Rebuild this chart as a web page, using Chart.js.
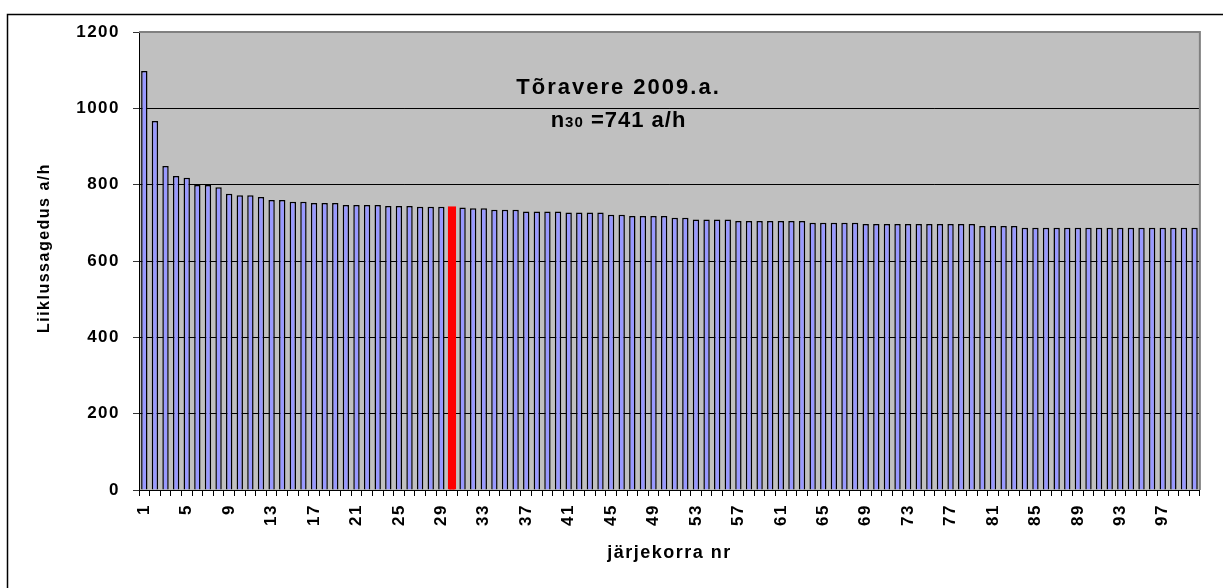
<!DOCTYPE html>
<html>
<head>
<meta charset="utf-8">
<script src="https://cdn.jsdelivr.net/npm/chart.js@4/dist/chart.umd.min.js"></script>
<style>
  html, body { margin: 0; padding: 0; background: #fff; }
  #wrap { width: 1223px; height: 588px; }
</style>
</head>
<body>
<div id="wrap"><canvas id="chart"></canvas></div>
<script>
// järjekorra nr 1..100
const positions = Array.from({ length: 100 }, (_, i) => String(i + 1));
const labelStep = 4;

// liiklussagedus a/h, sorted descending
const intensity = [
  1098, 967, 849, 823, 818, 799, 799, 793, 776, 772,
  772, 768, 760, 760, 755, 755, 752, 752, 752, 747,
  747, 747, 747, 744, 744, 744, 742, 742, 742, 741,
  740, 738, 738, 734, 734, 734, 730, 730, 730, 730,
  727, 727, 727, 727, 721, 721, 718, 718, 718, 718,
  713, 713, 709, 709, 709, 709, 705, 705, 705, 705,
  705, 705, 705, 700, 700, 700, 700, 700, 697, 697,
  697, 697, 697, 697, 697, 697, 697, 697, 697, 692,
  692, 692, 692, 687, 687, 687, 687, 687, 687, 687,
  687, 687, 687, 687, 687, 687, 687, 687, 687, 687
];

const n30Index = 29; // 30. tund
const yTicks = [0, 200, 400, 600, 800, 1000, 1200];

const FONT = "'Liberation Sans', Arial, sans-serif";
const SPACING = '1.5px';

const excelLook = {
  id: 'excelLook',
  beforeUpdate(chart) { chart.ctx.letterSpacing = SPACING; },
  beforeDraw(chart) {
    const { ctx, chartArea: a } = chart;
    ctx.letterSpacing = SPACING;
    ctx.save();
    ctx.fillStyle = '#C0C0C0';
    ctx.fillRect(a.left, a.top, a.right - a.left, a.bottom - a.top);
    ctx.restore();
  },
  afterDraw(chart) {
    const { ctx, chartArea: a } = chart;
    ctx.save();
    // plot border top/right
    ctx.strokeStyle = '#808080';
    ctx.lineWidth = 2;
    ctx.beginPath();
    ctx.moveTo(a.left, a.top);
    ctx.lineTo(a.right, a.top);
    ctx.lineTo(a.right, a.bottom);
    ctx.stroke();
    // outer frame
    ctx.strokeStyle = '#000';
    ctx.lineWidth = 1.5;
    ctx.strokeRect(7.5, 14.5, 1400, 1000);

    // title inside plot
    const cx = a.left + (a.right - a.left) * 0.452;
    ctx.fillStyle = '#000';
    ctx.textBaseline = 'alphabetic';
    ctx.letterSpacing = '2px';
    ctx.font = 'bold 22px ' + FONT;
    ctx.textAlign = 'center';
    ctx.fillText('Tõravere 2009.a.', cx, a.top + 62);

    const p1 = 'n', p2 = '30', p3 = ' =' + intensity[n30Index] + ' a/h';
    ctx.letterSpacing = '1px';
    ctx.font = 'bold 22px ' + FONT;
    const w1 = ctx.measureText(p1).width, w3 = ctx.measureText(p3).width;
    ctx.font = 'bold 15px ' + FONT;
    const w2 = ctx.measureText(p2).width;
    let x = cx - (w1 + w2 + w3) / 2;
    const y = a.top + 95;
    ctx.textAlign = 'left';
    ctx.font = 'bold 22px ' + FONT;
    ctx.fillText(p1, x, y); x += w1;
    ctx.font = 'bold 15px ' + FONT;
    ctx.fillText(p2, x, y); x += w2;
    ctx.font = 'bold 22px ' + FONT;
    ctx.fillText(p3, x, y);

    // y axis title
    ctx.letterSpacing = SPACING;
    ctx.font = 'bold 16px ' + FONT;
    ctx.textAlign = 'center';
    ctx.textBaseline = 'middle';
    ctx.translate(45, 248);
    ctx.rotate(-Math.PI / 2);
    ctx.fillText('Liiklussagedus a/h', 0, 0);
    ctx.restore();
  }
};

new Chart(document.getElementById('chart'), {
  type: 'bar',
  data: {
    labels: positions,
    datasets: [{
      data: intensity,
      backgroundColor: c => c.dataIndex === n30Index ? '#FF0000' : '#9999FF',
      borderColor: c => c.dataIndex === n30Index ? '#FF0000' : '#000000',
      borderWidth: 1.5,
      inflateAmount: c => c.dataIndex === n30Index ? 1 : 'auto',
      barPercentage: 0.6,
      categoryPercentage: 1
    }]
  },
  options: {
    responsive: true,
    maintainAspectRatio: false,
    animation: false,
    layout: { padding: { top: 32, right: 6, left: 0, bottom: 0 } },
    plugins: { legend: { display: false }, tooltip: { enabled: false } },
    scales: {
      x: {
        grid: { offset: true, drawOnChartArea: false, color: '#000', tickLength: 6 },
        border: { color: '#000', width: 1 },
        ticks: {
          autoSkip: false,
          maxRotation: 90,
          minRotation: 90,
          padding: 8,
          color: '#000',
          font: { family: FONT, size: 17, weight: 'bold' },
          callback: (v, i) => i % labelStep === 0 ? positions[i] : ''
        },
        title: {
          display: true,
          text: 'järjekorra nr',
          color: '#000',
          font: { family: FONT, size: 18, weight: 'bold' },
          padding: { top: 0, bottom: 24 }
        },
        afterFit: s => { s.height = 98; }
      },
      y: {
        min: yTicks[0],
        max: yTicks[yTicks.length - 1],
        grid: { color: '#000', lineWidth: 1, tickLength: 6, tickColor: '#333' },
        border: { color: '#000', width: 1 },
        ticks: {
          stepSize: yTicks[1] - yTicks[0],
          padding: 13,
          color: '#000',
          font: { family: FONT, size: 17, weight: 'bold' },
          callback: v => String(v)
        },
        afterFit: s => { s.width = 139; }
      }
    }
  },
  plugins: [excelLook]
});
</script>
</body>
</html>
